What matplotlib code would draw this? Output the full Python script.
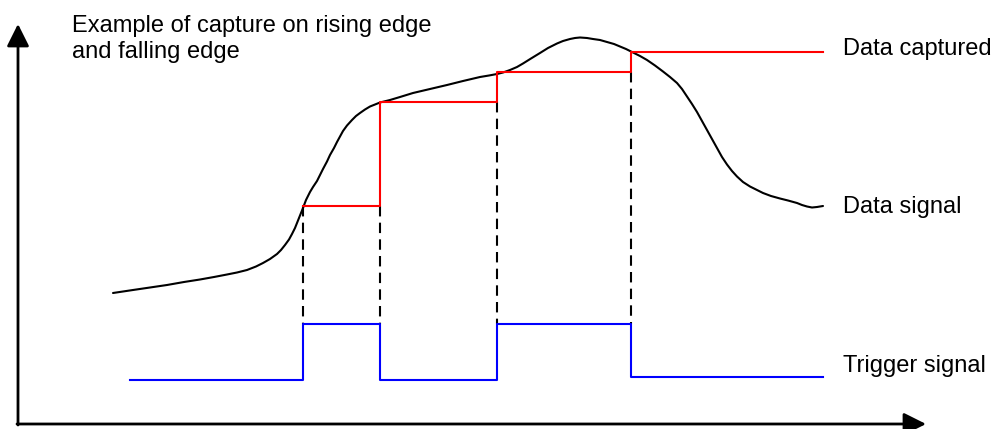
import matplotlib
matplotlib.use("Agg")
import matplotlib.pyplot as plt

plt.rcParams['font.family'] = ['Liberation Sans', 'DejaVu Sans']

# ---- data (diagram units: x to the right, level measured downward from the top) ----
edge_x = [303, 380, 497, 631]
trigger_x = [130, 303, 303, 380, 380, 497, 497, 631, 631, 823]
trigger_y = [380, 380, 324, 324, 380, 380, 324, 324, 377, 377]

captured_x = [303, 380, 380, 497, 497, 631, 631, 823]
captured_y = [206, 206, 102, 102, 72, 72, 52, 52]

signal_x = [113, 133, 150, 167, 184, 200, 214, 227, 237, 247, 256, 263, 270, 277,
            281, 285, 289, 292, 295, 297, 300, 303, 306, 310, 313, 317, 320, 323,
            327, 330, 334, 337, 340, 343, 347, 352, 356, 360, 365, 370, 375, 380,
            390, 400, 413, 430, 447, 463, 480, 489, 497, 503, 510, 517, 523, 531,
            540, 548, 557, 563, 570, 575, 580, 587, 593, 600, 607, 614, 620, 626,
            632, 640, 647, 655, 663, 670, 677, 682, 687, 692, 697, 702, 707, 712,
            717, 722, 727, 732, 737, 743, 750, 757, 763, 771, 780, 788, 797, 802,
            807, 812, 817, 823]
signal_y = [293, 290, 287.5, 285, 282, 279.5, 277, 274.5, 272.5, 270, 266.5, 263, 259, 254,
            250, 245, 239.5, 234, 228, 223, 215.5, 208, 200, 192, 187, 181, 175, 169,
            161.5, 155, 148, 142, 136.5, 131, 125.5, 120, 116, 113, 109.5, 106.5, 104.5, 102.5,
            100, 97, 93, 89, 85, 81, 77, 75.5, 74, 72.5, 70, 67, 63.5, 58.5,
            53, 48, 43.5, 41, 39, 38, 37.5, 38, 39, 40, 42, 44, 46.5, 49,
            52, 56, 60, 65.5, 71.5, 77, 83, 89, 96.5, 104, 112, 121, 130, 139,
            148, 157, 164.5, 171, 176.5, 182, 186.5, 190, 193, 196, 198.5, 200.5, 203, 205,
            206.5, 207.5, 207, 206]

dash_top = [206, 206, 102, 72]
dash_bottom = [324, 324, 324, 324]

title_lines = ["Example of capture on rising edge", "and falling edge"]
title_baseline = [32, 58]
label_texts = ["Data captured", "Data signal", "Trigger signal"]
label_baseline = [55, 213, 372]

# ---- figure ----
fig = plt.figure(figsize=(9.98, 4.29), dpi=100)
ax = fig.add_axes([0, 0, 1, 1])
ax.set_xlim(0, 998)
ax.set_ylim(429, 0)
ax.axis('off')

# axes arrows
arrow_style = "-|>,head_length=0.68,head_width=0.34"
ax.annotate('', xy=(18, 24), xytext=(18, 425),
            arrowprops=dict(arrowstyle=arrow_style, mutation_scale=20, lw=2,
                            color='black', shrinkA=0, shrinkB=0))
ax.annotate('', xy=(926, 424), xytext=(17, 424),
            arrowprops=dict(arrowstyle=arrow_style, mutation_scale=20, lw=2,
                            color='black', shrinkA=0, shrinkB=0))

# dashed sampling lines
for x, t, b in zip(edge_x, dash_top, dash_bottom):
    ax.plot([x, x], [t, b], color='black', lw=1.5, linestyle=(0, (5, 3)))

ax.plot(signal_x, signal_y, color='black', lw=1.5, solid_joinstyle='round',
        solid_capstyle='round')
ax.plot(captured_x, captured_y, color='red', lw=1.5)
ax.plot(trigger_x, trigger_y, color='blue', lw=1.5)

for t, y in zip(title_lines, title_baseline):
    ax.text(72, y, t, fontsize=17, va='baseline', ha='left')
for t, y in zip(label_texts, label_baseline):
    ax.text(843, y, t, fontsize=17, va='baseline', ha='left')

fig.savefig('out.png', dpi=100)
